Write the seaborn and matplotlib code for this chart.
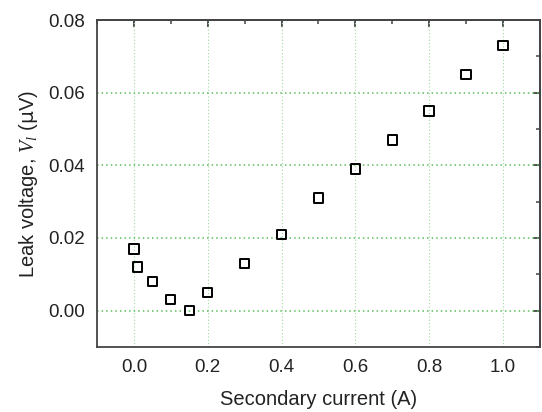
import matplotlib
matplotlib.use("Agg")
import matplotlib.pyplot as plt
import seaborn as sns
import pandas as pd
from matplotlib.ticker import MultipleLocator

current = [0.0, 0.01, 0.05, 0.1, 0.15, 0.2, 0.3, 0.4, 0.5, 0.6, 0.7, 0.8, 0.9, 1.0]
voltage = [0.017, 0.012, 0.008, 0.003, 0.0, 0.005, 0.013, 0.021, 0.031, 0.039, 0.047, 0.055, 0.065, 0.073]

sns.set_style("white")
plt.rcParams['font.family'] = ['Liberation Sans', 'DejaVu Sans']
plt.rcParams['mathtext.fontset'] = 'custom'
plt.rcParams['mathtext.it'] = 'Liberation Serif:italic'

df = pd.DataFrame({"current": current, "voltage": voltage})

fig = plt.figure(figsize=(5.42, 4.12), dpi=100)
ax = fig.add_axes([0.179, 0.158, 0.817, 0.793])

sns.scatterplot(data=df, x="current", y="voltage", ax=ax, marker="s", s=45,
                facecolors="none", edgecolor="black", linewidth=1.4, zorder=3)

ax.set_xlim(-0.1, 1.1)
ax.set_ylim(-0.01, 0.08)
ax.xaxis.set_major_locator(MultipleLocator(0.2))
ax.xaxis.set_minor_locator(MultipleLocator(0.1))
ax.yaxis.set_major_locator(MultipleLocator(0.02))
ax.yaxis.set_minor_locator(MultipleLocator(0.01))
ax.xaxis.set_major_formatter(matplotlib.ticker.FormatStrFormatter('%.1f'))
ax.yaxis.set_major_formatter(matplotlib.ticker.FormatStrFormatter('%.2f'))

ax.grid(False)
ax.xaxis.grid(True, which='major', color='#9fd89f', linestyle=(0, (1, 2)), linewidth=0.8)
ax.yaxis.grid(True, which='major', color='#5cbf5c', linestyle=(0, (1, 2)), linewidth=1.1)

for sp in ax.spines.values():
    sp.set_color('#444444')
    sp.set_linewidth(1.3)

ax.tick_params(axis='both', which='major', direction='out', length=5, width=1.3,
               color='#444444', labelsize=13.5, labelcolor='#222222')
ax.tick_params(axis='both', which='minor', direction='out', length=3, width=1.1,
               color='#444444')

secx = ax.secondary_xaxis('top')
secx.xaxis.set_major_locator(MultipleLocator(0.2))
secx.xaxis.set_minor_locator(MultipleLocator(0.1))
secx.tick_params(axis='x', which='major', direction='in', length=5, width=1.3,
                 color='#444444', labeltop=False)
secx.tick_params(axis='x', which='minor', direction='in', length=3, width=1.1,
                 color='#444444')
secx.spines['top'].set_color('#444444')
secx.spines['top'].set_linewidth(1.3)

secy = ax.secondary_yaxis('right')
secy.yaxis.set_major_locator(MultipleLocator(0.02))
secy.yaxis.set_minor_locator(MultipleLocator(0.01))
secy.tick_params(axis='y', which='major', direction='in', length=5, width=1.3,
                 color='#444444', labelright=False)
secy.tick_params(axis='y', which='minor', direction='in', length=3, width=1.1,
                 color='#444444')
secy.spines['right'].set_color('#444444')
secy.spines['right'].set_linewidth(1.3)

ax.set_xlabel("Secondary current (A)", fontsize=14.5, color='#222222', labelpad=10)
ax.set_ylabel(r"Leak voltage, $V_l$ ($\mathrm{\mu}$V)", fontsize=14.5, color='#222222', labelpad=6)

fig.savefig("out.png", dpi=100)
